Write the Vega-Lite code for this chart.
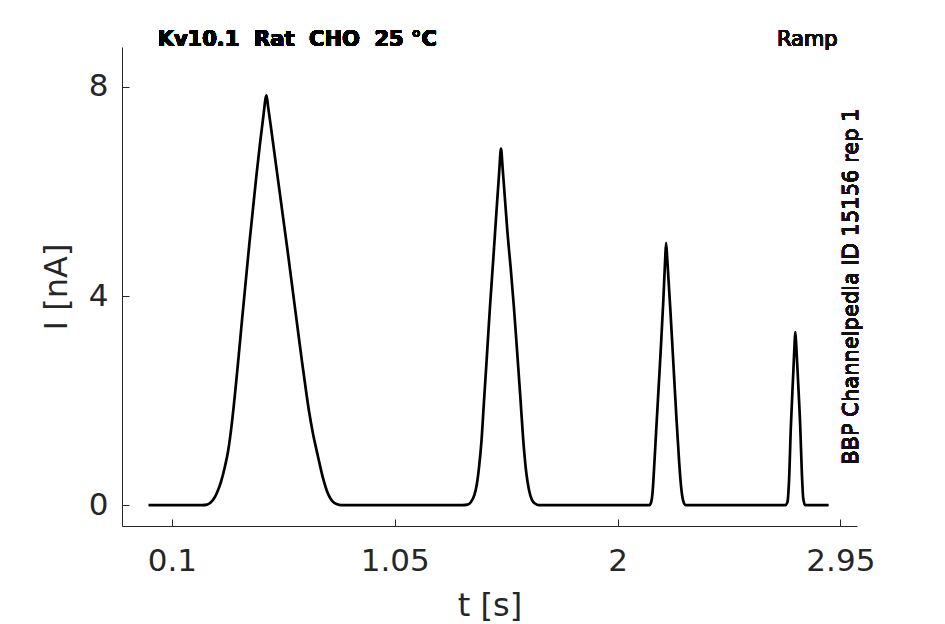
{
  "$schema": "https://vega.github.io/schema/vega-lite/v6.json",
  "description": "Kv10.1 ramp current trace",
  "width": 735,
  "height": 479,
  "autosize": "none",
  "padding": {"left": 122, "top": 47, "right": 88, "bottom": 98},
  "background": "white",
  "data": {
    "values": [
      {"t": 0.000, "i": 0}, {"t": 0.230, "i": 0}, {"t": 0.250, "i": 0.01}, {"t": 0.265, "i": 0.05},
      {"t": 0.280, "i": 0.13}, {"t": 0.295, "i": 0.27}, {"t": 0.310, "i": 0.46}, {"t": 0.325, "i": 0.72},
      {"t": 0.340, "i": 1.05}, {"t": 0.355, "i": 1.55}, {"t": 0.370, "i": 2.18}, {"t": 0.385, "i": 2.88},
      {"t": 0.400, "i": 3.60}, {"t": 0.415, "i": 4.30}, {"t": 0.430, "i": 5.00}, {"t": 0.445, "i": 5.65},
      {"t": 0.460, "i": 6.30}, {"t": 0.475, "i": 6.90}, {"t": 0.490, "i": 7.45}, {"t": 0.500, "i": 7.80},
      {"t": 0.503, "i": 7.84}, {"t": 0.510, "i": 7.62}, {"t": 0.520, "i": 7.30}, {"t": 0.535, "i": 6.80},
      {"t": 0.550, "i": 6.30}, {"t": 0.565, "i": 5.80}, {"t": 0.580, "i": 5.30}, {"t": 0.595, "i": 4.80},
      {"t": 0.610, "i": 4.28}, {"t": 0.625, "i": 3.76}, {"t": 0.640, "i": 3.24}, {"t": 0.655, "i": 2.73},
      {"t": 0.670, "i": 2.24}, {"t": 0.685, "i": 1.78}, {"t": 0.700, "i": 1.40}, {"t": 0.715, "i": 1.08},
      {"t": 0.730, "i": 0.78}, {"t": 0.745, "i": 0.50}, {"t": 0.760, "i": 0.28}, {"t": 0.775, "i": 0.13},
      {"t": 0.790, "i": 0.05}, {"t": 0.805, "i": 0.015}, {"t": 0.820, "i": 0},
      {"t": 1.340, "i": 0}, {"t": 1.360, "i": 0.01}, {"t": 1.375, "i": 0.06}, {"t": 1.390, "i": 0.20},
      {"t": 1.400, "i": 0.40}, {"t": 1.410, "i": 0.75}, {"t": 1.420, "i": 1.24}, {"t": 1.430, "i": 1.95},
      {"t": 1.440, "i": 2.65}, {"t": 1.456, "i": 3.79}, {"t": 1.470, "i": 4.70}, {"t": 1.485, "i": 5.70},
      {"t": 1.495, "i": 6.35}, {"t": 1.503, "i": 6.82}, {"t": 1.510, "i": 6.45}, {"t": 1.520, "i": 5.85},
      {"t": 1.530, "i": 5.25}, {"t": 1.545, "i": 4.50}, {"t": 1.558, "i": 3.79}, {"t": 1.570, "i": 3.05},
      {"t": 1.585, "i": 2.10}, {"t": 1.598, "i": 1.24}, {"t": 1.610, "i": 0.65}, {"t": 1.622, "i": 0.30},
      {"t": 1.635, "i": 0.10}, {"t": 1.648, "i": 0.03}, {"t": 1.665, "i": 0},
      {"t": 2.135, "i": 0}, {"t": 2.143, "i": 0.05}, {"t": 2.150, "i": 0.28}, {"t": 2.157, "i": 0.80},
      {"t": 2.165, "i": 1.45}, {"t": 2.181, "i": 2.71}, {"t": 2.195, "i": 3.90}, {"t": 2.203, "i": 4.70},
      {"t": 2.207, "i": 5.02}, {"t": 2.212, "i": 4.70}, {"t": 2.225, "i": 3.75}, {"t": 2.238, "i": 2.71},
      {"t": 2.250, "i": 1.75}, {"t": 2.263, "i": 0.80}, {"t": 2.271, "i": 0.35}, {"t": 2.280, "i": 0.08},
      {"t": 2.290, "i": 0},
      {"t": 2.715, "i": 0}, {"t": 2.724, "i": 0.05}, {"t": 2.731, "i": 0.45}, {"t": 2.739, "i": 1.50},
      {"t": 2.750, "i": 2.60}, {"t": 2.755, "i": 3.10}, {"t": 2.758, "i": 3.31}, {"t": 2.762, "i": 3.05},
      {"t": 2.770, "i": 2.35}, {"t": 2.779, "i": 1.50}, {"t": 2.786, "i": 0.60}, {"t": 2.792, "i": 0.12},
      {"t": 2.800, "i": 0}, {"t": 2.900, "i": 0}
    ]
  },
  "layer": [
    {
      "mark": {"type": "line", "color": "#000000", "strokeWidth": 2.7, "strokeJoin": "round", "interpolate": "monotone", "clip": true},
      "encoding": {
        "x": {
          "field": "t",
          "type": "quantitative",
          "title": "t [s]",
          "scale": {"domain": [-0.113, 3.021], "nice": false, "zero": false},
          "axis": {"values": [0.1, 1.05, 2, 2.95], "format": ".3~g", "labelPadding": 27, "titlePadding": 14}
        },
        "y": {
          "field": "i",
          "type": "quantitative",
          "title": "I [nA]",
          "scale": {"domain": [-0.4, 8.765], "nice": false, "zero": false},
          "axis": {"values": [0, 4, 8], "format": "~g", "labelPadding": 21, "titlePadding": 15}
        }
      }
    },
    {
      "mark": {"type": "text", "text": "Kv10.1\u00a0 Rat\u00a0 CHO\u00a0 25 °C", "align": "left", "baseline": "alphabetic", "font": "DejaVu Sans", "fontSize": 21, "fontWeight": "bold", "color": "#000000"},
      "encoding": {
        "x": {"datum": 0.039},
        "y": {"datum": 8.778}
      }
    },
    {
      "mark": {"type": "text", "text": "Ramp", "align": "center", "baseline": "alphabetic", "font": "DejaVu Sans", "fontSize": 21, "fontWeight": "normal", "color": "#111111"},
      "encoding": {
        "x": {"datum": 2.809},
        "y": {"datum": 8.778}
      }
    },
    {
      "mark": {"type": "text", "text": "BBP Channelpedia ID 15156 rep 1", "angle": 270, "align": "center", "baseline": "alphabetic", "font": "DejaVu Sans", "fontSize": 21, "fontWeight": "normal", "color": "#111111"},
      "encoding": {
        "x": {"datum": 3.0266},
        "y": {"datum": 4.18}
      }
    }
  ],
  "config": {
    "view": {"stroke": null},
    "font": "DejaVu Sans",
    "axis": {
      "grid": false,
      "domainColor": "#262626",
      "domainWidth": 1,
      "tickColor": "#262626",
      "tickWidth": 1,
      "tickSize": -7,
      "labelFont": "DejaVu Sans",
      "labelFontSize": 31,
      "labelColor": "#262626",
      "titleFont": "DejaVu Sans",
      "titleFontSize": 32,
      "titleFontWeight": "normal",
      "titleColor": "#262626"
    }
  }
}
